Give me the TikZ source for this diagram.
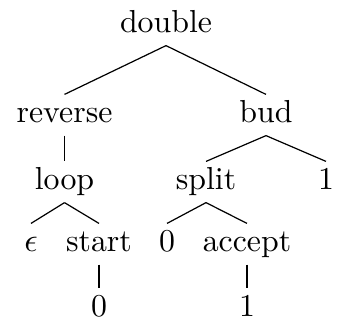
\documentclass[tikz,border=0pt]{standalone}
\begin{document}
\begin{tikzpicture}[x=0.33pt,y=-0.33pt,
  lbl/.style={anchor=base,font=\fontsize{10.5pt}{12pt}\selectfont,text height=6.6pt,text depth=1.98pt,inner ysep=2.31pt,inner xsep=1pt},
  edge/.style={line width=0.4pt}]
\useasboundingbox (0,0) rectangle (338,320);
\node[lbl] (double) at (166,32) {double};
\node[lbl] (reverse) at (64.5,122) {reverse};
\node[lbl] (bud) at (266,122) {bud};
\node[lbl] (loop) at (64.5,189) {loop};
\node[lbl] (split) at (206,189) {split};
\node[lbl] (one1) at (326,189) {1};
\node[lbl] (eps) at (31,251) {$\epsilon$};
\node[lbl] (start) at (99,251) {start};
\node[lbl] (zero1) at (167,251) {0};
\node[lbl] (accept) at (247,251) {accept};
\node[lbl] (zero2) at (99,316) {0};
\node[lbl] (one2) at (247,316) {1};
\draw[edge] (double.south) -- (reverse.north);
\draw[edge] (double.south) -- (bud.north);
\draw[edge] (reverse.south) -- (loop.north);
\draw[edge] (bud.south) -- (split.north);
\draw[edge] (bud.south) -- (one1.north);
\draw[edge] (loop.south) -- (eps.north);
\draw[edge] (loop.south) -- (start.north);
\draw[edge] (split.south) -- (zero1.north);
\draw[edge] (split.south) -- (accept.north);
\draw[edge] (start.south) -- (zero2.north);
\draw[edge] (accept.south) -- (one2.north);
\end{tikzpicture}
\end{document}
